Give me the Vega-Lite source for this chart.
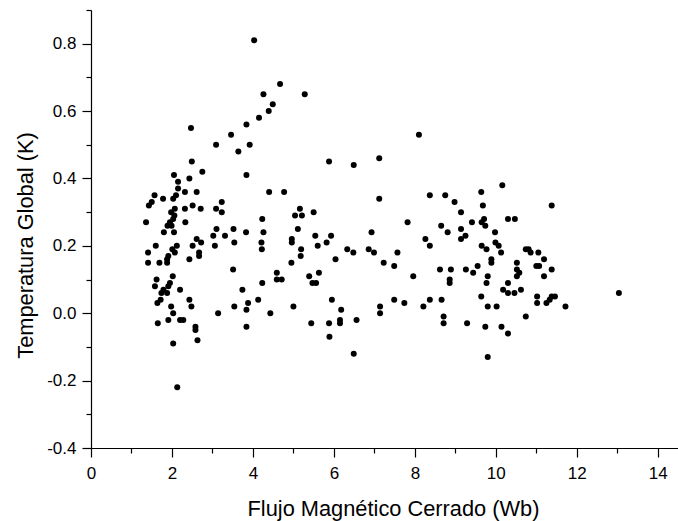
{
  "$schema": "https://vega.github.io/schema/vega-lite/v6.json",
  "width": 587,
  "height": 438,
  "autosize": {"type": "none"},
  "padding": {"left": 91, "top": 10, "right": 0, "bottom": 73},
  "background": "white",
  "config": {"view": {"stroke": null}, "font": "Liberation Sans"},
  "data": {"values": [
    {"flux": 3.64, "temp": 0.48}, {"flux": 2.49, "temp": 0.45}, {"flux": 2.75, "temp": 0.42}, {"flux": 2.05, "temp": 0.41},
    {"flux": 3.84, "temp": 0.41}, {"flux": 2.43, "temp": 0.40}, {"flux": 2.15, "temp": 0.39}, {"flux": 2.15, "temp": 0.37},
    {"flux": 2.32, "temp": 0.36}, {"flux": 2.61, "temp": 0.36}, {"flux": 1.57, "temp": 0.35}, {"flux": 2.10, "temp": 0.35},
    {"flux": 1.78, "temp": 0.34}, {"flux": 2.03, "temp": 0.34}, {"flux": 1.50, "temp": 0.33}, {"flux": 1.43, "temp": 0.32},
    {"flux": 3.23, "temp": 0.33}, {"flux": 2.32, "temp": 0.31}, {"flux": 2.71, "temp": 0.31}, {"flux": 3.09, "temp": 0.31},
    {"flux": 2.07, "temp": 0.31}, {"flux": 3.23, "temp": 0.30}, {"flux": 1.98, "temp": 0.30}, {"flux": 2.06, "temp": 0.29},
    {"flux": 2.03, "temp": 0.28}, {"flux": 1.36, "temp": 0.27}, {"flux": 2.33, "temp": 0.27}, {"flux": 1.95, "temp": 0.27},
    {"flux": 1.99, "temp": 0.26}, {"flux": 1.89, "temp": 0.26}, {"flux": 1.80, "temp": 0.24}, {"flux": 2.05, "temp": 0.24},
    {"flux": 3.10, "temp": 0.25}, {"flux": 3.02, "temp": 0.23}, {"flux": 3.31, "temp": 0.23}, {"flux": 3.52, "temp": 0.25},
    {"flux": 3.83, "temp": 0.24}, {"flux": 3.54, "temp": 0.21}, {"flux": 3.06, "temp": 0.20}, {"flux": 2.61, "temp": 0.22},
    {"flux": 2.72, "temp": 0.21}, {"flux": 2.51, "temp": 0.20}, {"flux": 1.60, "temp": 0.20}, {"flux": 2.12, "temp": 0.20},
    {"flux": 2.01, "temp": 0.19}, {"flux": 2.07, "temp": 0.18}, {"flux": 1.41, "temp": 0.18}, {"flux": 2.67, "temp": 0.18},
    {"flux": 2.67, "temp": 0.17}, {"flux": 1.91, "temp": 0.17}, {"flux": 1.88, "temp": 0.16}, {"flux": 1.88, "temp": 0.15},
    {"flux": 1.41, "temp": 0.15}, {"flux": 1.69, "temp": 0.15}, {"flux": 2.43, "temp": 0.16}, {"flux": 3.51, "temp": 0.13},
    {"flux": 1.62, "temp": 0.10}, {"flux": 2.02, "temp": 0.11}, {"flux": 1.95, "temp": 0.09}, {"flux": 1.91, "temp": 0.08},
    {"flux": 1.58, "temp": 0.08}, {"flux": 1.79, "temp": 0.07}, {"flux": 1.74, "temp": 0.06}, {"flux": 1.88, "temp": 0.06},
    {"flux": 2.20, "temp": 0.07}, {"flux": 3.74, "temp": 0.07}, {"flux": 1.72, "temp": 0.04}, {"flux": 1.64, "temp": 0.03},
    {"flux": 2.43, "temp": 0.04}, {"flux": 2.48, "temp": 0.02}, {"flux": 1.98, "temp": 0.02}, {"flux": 3.54, "temp": 0.02},
    {"flux": 3.88, "temp": 0.03}, {"flux": 3.84, "temp": 0.01}, {"flux": 2.03, "temp": 0.00}, {"flux": 3.14, "temp": 0.00},
    {"flux": 1.91, "temp": -0.02}, {"flux": 2.20, "temp": -0.02}, {"flux": 2.28, "temp": -0.02}, {"flux": 1.65, "temp": -0.03},
    {"flux": 2.58, "temp": -0.04}, {"flux": 2.58, "temp": -0.05}, {"flux": 3.84, "temp": -0.04}, {"flux": 2.63, "temp": -0.08},
    {"flux": 2.03, "temp": -0.09}, {"flux": 2.13, "temp": -0.22},
    {"flux": 4.03, "temp": 0.81}, {"flux": 4.67, "temp": 0.68}, {"flux": 4.26, "temp": 0.65}, {"flux": 5.28, "temp": 0.65},
    {"flux": 4.49, "temp": 0.62}, {"flux": 4.39, "temp": 0.60}, {"flux": 4.15, "temp": 0.58}, {"flux": 3.84, "temp": 0.56},
    {"flux": 3.92, "temp": 0.50}, {"flux": 5.88, "temp": 0.45}, {"flux": 6.49, "temp": 0.44}, {"flux": 7.12, "temp": 0.46},
    {"flux": 4.40, "temp": 0.36}, {"flux": 4.77, "temp": 0.36}, {"flux": 7.12, "temp": 0.34}, {"flux": 5.16, "temp": 0.31},
    {"flux": 5.04, "temp": 0.29}, {"flux": 5.21, "temp": 0.29}, {"flux": 5.50, "temp": 0.30}, {"flux": 4.23, "temp": 0.28},
    {"flux": 4.26, "temp": 0.24}, {"flux": 5.11, "temp": 0.25}, {"flux": 5.54, "temp": 0.23}, {"flux": 5.93, "temp": 0.23},
    {"flux": 6.93, "temp": 0.24}, {"flux": 4.96, "temp": 0.22}, {"flux": 4.96, "temp": 0.21}, {"flux": 4.21, "temp": 0.21},
    {"flux": 5.82, "temp": 0.21}, {"flux": 4.22, "temp": 0.19}, {"flux": 5.19, "temp": 0.19}, {"flux": 5.60, "temp": 0.20},
    {"flux": 6.33, "temp": 0.19}, {"flux": 6.48, "temp": 0.18}, {"flux": 6.86, "temp": 0.19}, {"flux": 6.99, "temp": 0.18},
    {"flux": 7.57, "temp": 0.18}, {"flux": 5.18, "temp": 0.17}, {"flux": 6.04, "temp": 0.16}, {"flux": 4.95, "temp": 0.15},
    {"flux": 7.23, "temp": 0.15}, {"flux": 7.49, "temp": 0.14}, {"flux": 4.59, "temp": 0.12}, {"flux": 4.59, "temp": 0.10},
    {"flux": 4.71, "temp": 0.10}, {"flux": 5.63, "temp": 0.12}, {"flux": 5.39, "temp": 0.11}, {"flux": 5.47, "temp": 0.09},
    {"flux": 5.56, "temp": 0.09}, {"flux": 4.23, "temp": 0.09}, {"flux": 4.13, "temp": 0.04}, {"flux": 4.43, "temp": 0.00},
    {"flux": 5.00, "temp": 0.02}, {"flux": 5.95, "temp": 0.04}, {"flux": 6.18, "temp": 0.01}, {"flux": 6.15, "temp": -0.02},
    {"flux": 6.15, "temp": -0.03}, {"flux": 6.56, "temp": -0.02}, {"flux": 5.88, "temp": -0.03}, {"flux": 5.44, "temp": -0.03},
    {"flux": 5.89, "temp": -0.07}, {"flux": 6.49, "temp": -0.12}, {"flux": 7.14, "temp": 0.02}, {"flux": 7.14, "temp": 0.00},
    {"flux": 7.49, "temp": 0.04},
    {"flux": 8.10, "temp": 0.53}, {"flux": 10.16, "temp": 0.38}, {"flux": 8.37, "temp": 0.35}, {"flux": 8.75, "temp": 0.35},
    {"flux": 9.64, "temp": 0.36}, {"flux": 8.98, "temp": 0.33}, {"flux": 9.68, "temp": 0.32}, {"flux": 9.14, "temp": 0.30},
    {"flux": 7.82, "temp": 0.27}, {"flux": 9.41, "temp": 0.27}, {"flux": 9.65, "temp": 0.27}, {"flux": 9.71, "temp": 0.28},
    {"flux": 9.74, "temp": 0.26}, {"flux": 10.30, "temp": 0.28}, {"flux": 10.47, "temp": 0.28}, {"flux": 8.65, "temp": 0.26},
    {"flux": 8.81, "temp": 0.24}, {"flux": 9.14, "temp": 0.25}, {"flux": 9.98, "temp": 0.24}, {"flux": 9.25, "temp": 0.23},
    {"flux": 9.14, "temp": 0.22}, {"flux": 8.26, "temp": 0.22}, {"flux": 8.37, "temp": 0.20}, {"flux": 9.65, "temp": 0.20},
    {"flux": 9.77, "temp": 0.19}, {"flux": 9.99, "temp": 0.21}, {"flux": 10.07, "temp": 0.20}, {"flux": 10.13, "temp": 0.18},
    {"flux": 10.74, "temp": 0.19}, {"flux": 10.81, "temp": 0.19}, {"flux": 10.86, "temp": 0.18}, {"flux": 11.05, "temp": 0.18},
    {"flux": 7.96, "temp": 0.11}, {"flux": 8.62, "temp": 0.13}, {"flux": 8.89, "temp": 0.13}, {"flux": 9.26, "temp": 0.13},
    {"flux": 9.44, "temp": 0.12}, {"flux": 9.55, "temp": 0.14}, {"flux": 9.89, "temp": 0.16}, {"flux": 9.89, "temp": 0.15},
    {"flux": 9.80, "temp": 0.11}, {"flux": 9.77, "temp": 0.09}, {"flux": 10.52, "temp": 0.15}, {"flux": 10.52, "temp": 0.13},
    {"flux": 10.58, "temp": 0.12}, {"flux": 10.52, "temp": 0.11}, {"flux": 11.00, "temp": 0.14}, {"flux": 10.30, "temp": 0.09},
    {"flux": 10.18, "temp": 0.07}, {"flux": 10.30, "temp": 0.06}, {"flux": 10.46, "temp": 0.06}, {"flux": 10.62, "temp": 0.07},
    {"flux": 8.86, "temp": 0.10}, {"flux": 8.86, "temp": 0.09}, {"flux": 9.64, "temp": 0.05}, {"flux": 11.02, "temp": 0.05},
    {"flux": 11.02, "temp": 0.03}, {"flux": 7.74, "temp": 0.03}, {"flux": 8.21, "temp": 0.02}, {"flux": 8.37, "temp": 0.04},
    {"flux": 8.66, "temp": 0.04}, {"flux": 9.80, "temp": 0.02}, {"flux": 10.02, "temp": 0.02}, {"flux": 8.71, "temp": -0.01},
    {"flux": 8.71, "temp": -0.03}, {"flux": 9.29, "temp": -0.03}, {"flux": 9.74, "temp": -0.04}, {"flux": 10.14, "temp": -0.04},
    {"flux": 10.30, "temp": -0.06}, {"flux": 10.74, "temp": -0.01}, {"flux": 9.80, "temp": -0.13},
    {"flux": 11.38, "temp": 0.32}, {"flux": 11.19, "temp": 0.16}, {"flux": 11.07, "temp": 0.14}, {"flux": 11.38, "temp": 0.13},
    {"flux": 11.19, "temp": 0.11}, {"flux": 11.25, "temp": 0.03}, {"flux": 11.33, "temp": 0.04}, {"flux": 11.38, "temp": 0.05},
    {"flux": 11.46, "temp": 0.05}, {"flux": 11.72, "temp": 0.02}, {"flux": 13.04, "temp": 0.06},
    {"flux": 2.47, "temp": 0.55}, {"flux": 3.09, "temp": 0.50}, {"flux": 3.46, "temp": 0.53}, {"flux": 2.51, "temp": 0.32}
  ]},
  "mark": {"type": "circle", "size": 36, "color": "black", "opacity": 1},
  "encoding": {
    "x": {
      "field": "flux", "type": "quantitative",
      "scale": {"domain": [0, 14.5], "nice": false, "zero": false},
      "axis": {
        "title": "Flujo Magnético Cerrado (Wb)",
        "values": [0,1,2,3,4,5,6,7,8,9,10,11,12,13,14],
        "labelExpr": "datum.value % 2 === 0 ? datum.label : ''",
        "tickSize": {"condition": {"test": "datum.value % 2 === 0", "value": 9}, "value": 5},
        "labelPadding": 8,
        "labelFontSize": 17, "labelColor": "black", "labelFont": "Liberation Sans",
        "domainColor": "black", "domainWidth": 1.2, "tickColor": "black", "tickWidth": 1.2,
        "grid": false, "labelFlush": false, "labelOverlap": false,
        "titleFontSize": 21.8, "titleFontWeight": "normal", "titleColor": "black", "titleFont": "Liberation Sans",
        "titleX": 302, "titleY": 67, "titleBaseline": "alphabetic", "titleAlign": "center"
      }
    },
    "y": {
      "field": "temp", "type": "quantitative",
      "scale": {"domain": [-0.4, 0.9], "nice": false, "zero": false},
      "axis": {
        "title": "Temperatura Global (K)",
        "values": [-0.4,-0.3,-0.2,-0.1,0,0.1,0.2,0.3,0.4,0.5,0.6,0.7,0.8,0.9],
        "labelExpr": "abs(round(datum.value*10)) % 2 === 0 ? replace(format(datum.value, '.1f'), '\u2212', '-') : ''",
        "tickSize": {"condition": {"test": "abs(round(datum.value*10)) % 2 === 0", "value": 9}, "value": 5},
        "labelPadding": 6,
        "labelFontSize": 17, "labelColor": "black", "labelFont": "Liberation Sans",
        "domainColor": "black", "domainWidth": 1.2, "tickColor": "black", "tickWidth": 1.2,
        "grid": false, "labelFlush": false, "labelOverlap": false,
        "titleFontSize": 21.8, "titleFontWeight": "normal", "titleColor": "black", "titleFont": "Liberation Sans",
        "titleX": -66, "titleY": 235, "titleBaseline": "middle", "titleAlign": "center", "titleAngle": -90
      }
    }
  }
}
